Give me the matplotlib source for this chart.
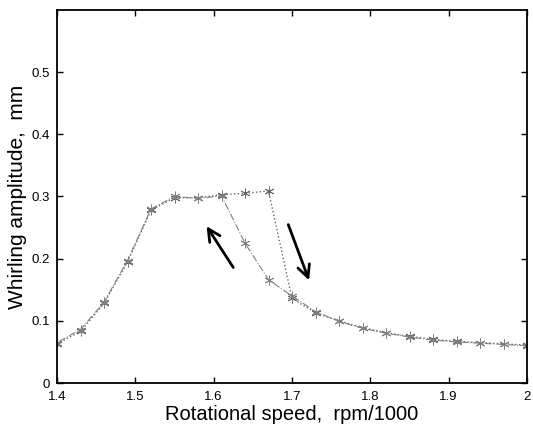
import matplotlib.pyplot as plt

plt.rcParams['font.family'] = ['Liberation Sans', 'DejaVu Sans']

# rotational speed, rpm/1000
speed_up = [1.40, 1.43, 1.46, 1.49, 1.52, 1.55, 1.58, 1.61, 1.64, 1.67,
            1.70, 1.73, 1.76, 1.79, 1.82, 1.85, 1.88, 1.91, 1.94, 1.97, 2.00]
amp_up = [0.063, 0.083, 0.128, 0.195, 0.278, 0.298, 0.298, 0.303, 0.305, 0.309,
          0.136, 0.113, 0.100, 0.089, 0.081, 0.075, 0.070, 0.067, 0.065, 0.063, 0.061]

speed_down = [2.00, 1.97, 1.94, 1.91, 1.88, 1.85, 1.82, 1.79, 1.76, 1.73,
              1.70, 1.67, 1.64, 1.61, 1.58, 1.55, 1.52, 1.49, 1.46, 1.43, 1.40]
amp_down = [0.060, 0.062, 0.064, 0.066, 0.069, 0.074, 0.080, 0.088, 0.099, 0.115,
            0.140, 0.166, 0.225, 0.301, 0.297, 0.300, 0.280, 0.197, 0.130, 0.086, 0.065]

xticks = [1.4, 1.5, 1.6, 1.7, 1.8, 1.9, 2.0]
xtick_labels = ['1.4', '1.5', '1.6', '1.7', '1.8', '1.9', '2']
yticks = [0, 0.1, 0.2, 0.3, 0.4, 0.5]
ytick_labels = ['0', '0.1', '0.2', '0.3', '0.4', '0.5']

fig = plt.figure(figsize=(5.33, 4.33), dpi=100)
ax = fig.add_axes([57 / 533, 50 / 433, 470 / 533, 373 / 433])

star = (6, 2, 0)
ax.plot(speed_up, amp_up, linestyle=':', color='0.4', linewidth=1.0,
        marker=star, markersize=7, markeredgewidth=0.6)
ax.plot(speed_down, amp_down, linestyle='-.', color='0.5', linewidth=0.8,
        marker=star, markersize=7, markeredgewidth=0.6)

# sweep direction arrows
ax.annotate('', xy=(1.589, 0.256), xytext=(1.627, 0.182),
            arrowprops=dict(arrowstyle='->', color='black', lw=2,
                            mutation_scale=22))
ax.annotate('', xy=(1.723, 0.161), xytext=(1.694, 0.259),
            arrowprops=dict(arrowstyle='->', color='black', lw=2,
                            mutation_scale=22))

ax.set_xlim(1.4, 2.0)
ax.set_ylim(0, 0.6)
ax.set_xticks(xticks)
ax.set_xticklabels(xtick_labels)
ax.set_yticks(yticks)
ax.set_yticklabels(ytick_labels)
ax.tick_params(direction='in', top=True, right=True, length=4, width=1,
               labelsize=9.5, colors='black')
ax.tick_params(axis='x', pad=6)
ax.tick_params(axis='y', pad=5)
for s in ax.spines.values():
    s.set_linewidth(1.3)

ax.set_xlabel('Rotational speed,  rpm/1000', fontsize=14.5, labelpad=1)
ax.set_ylabel('Whirling amplitude,  mm', fontsize=15, labelpad=3)

fig.savefig('out.png', dpi=100)
